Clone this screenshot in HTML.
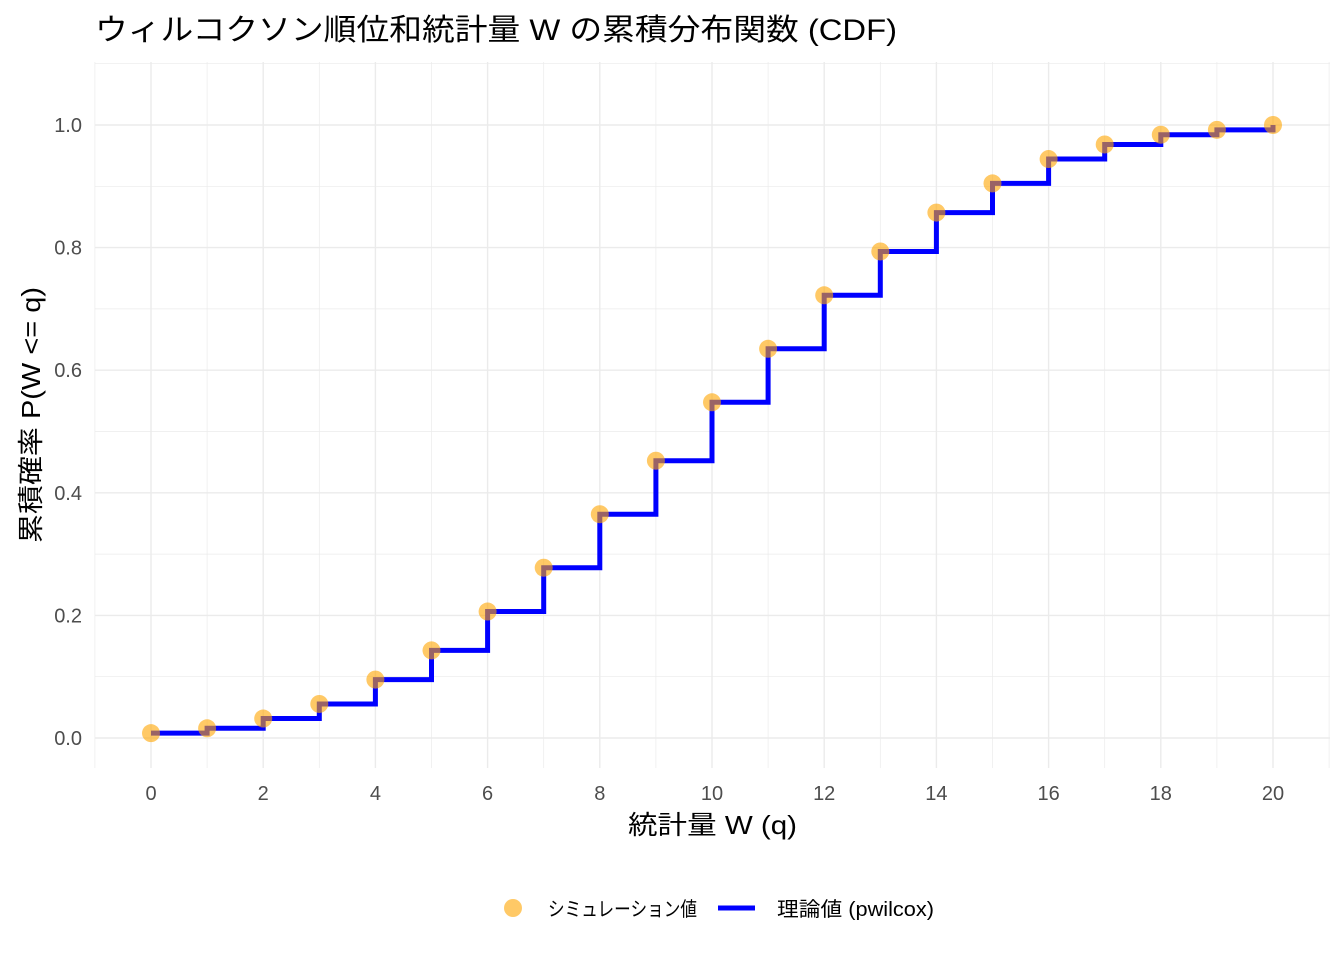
<!DOCTYPE html>
<html><head><meta charset="utf-8"><style>
html,body{margin:0;padding:0;background:#fff;}
svg{display:block;font-family:"Liberation Sans","Noto Sans CJK JP",sans-serif;}
</style></head><body>
<svg width="1344" height="960" viewBox="0 0 1344 960" xmlns="http://www.w3.org/2000/svg">
<rect width="1344" height="960" fill="#fff"/>
<g id="grid"></g>
<g id="data"></g>
<text x="95" y="40" font-size="30" fill="#000" textLength="802" lengthAdjust="spacingAndGlyphs">ウィルコクソン順位和統計量 W の累積分布関数 (CDF)</text>
<g font-size="20" fill="#4d4d4d" text-anchor="end" id="ylab"></g>
<g font-size="20" fill="#4d4d4d" text-anchor="middle" id="xlab"></g>
<text x="628" y="834" font-size="26" fill="#000" textLength="169" lengthAdjust="spacingAndGlyphs">統計量 W (q)</text>
<text transform="translate(40,543) rotate(-90)" font-size="26" fill="#000" textLength="256" lengthAdjust="spacingAndGlyphs">累積確率 P(W &lt;= q)</text>
<circle cx="513" cy="908" r="9" fill="#FFA500" fill-opacity="0.6"/>
<text x="548" y="916" font-size="20" fill="#000" textLength="149" lengthAdjust="spacingAndGlyphs">シミュレーション値</text>
<line x1="718" y1="908" x2="755" y2="908" stroke="#0000FF" stroke-width="5"/>
<text x="777" y="916" font-size="20" fill="#000" textLength="157" lengthAdjust="spacingAndGlyphs">理論値 (pwilcox)</text>
<script>
var ns="http://www.w3.org/2000/svg";
function X(v){return 151+v*56.1;}
function Y(p){return 738-p*613;}
function el(tag,attrs,parent){var e=document.createElementNS(ns,tag);for(var k in attrs)e.setAttribute(k,attrs[k]);document.getElementById(parent).appendChild(e);return e;}
for(var i=-1;i<=21;i++){el("line",{x1:X(i),x2:X(i),y1:62,y2:768,stroke:"#ebebeb","stroke-width":i%2==0?1.4:0.7},"grid");}
for(var j=0;j<=11;j++){var yy=Y(j/10);el("line",{x1:95,x2:1330,y1:yy,y2:yy,stroke:"#ebebeb","stroke-width":j%2==0?1.4:0.7},"grid");}
for(var j=0;j<=5;j++){var t=el("text",{x:82,y:Y(j*0.2)+7},"ylab");t.textContent=(j*0.2).toFixed(1);}
for(var i=0;i<=20;i+=2){var t=el("text",{x:X(i),y:800},"xlab");t.textContent=i;}
var c=[1,2,4,7,12,18,26,35,46,57,69,80,91,100,108,114,119,122,124,125,126];
var d="M"+X(0)+","+Y(c[0]/126);
for(var i=1;i<=20;i++){d+=" H"+X(i)+" V"+Y(c[i]/126);}
el("path",{d:d,fill:"none",stroke:"#0000FF","stroke-width":5},"data");
for(var i=0;i<=20;i++){el("circle",{cx:X(i),cy:Y(c[i]/126),r:9,fill:"#FFA500","fill-opacity":0.6},"data");}
</script>
</svg>
</body></html>
